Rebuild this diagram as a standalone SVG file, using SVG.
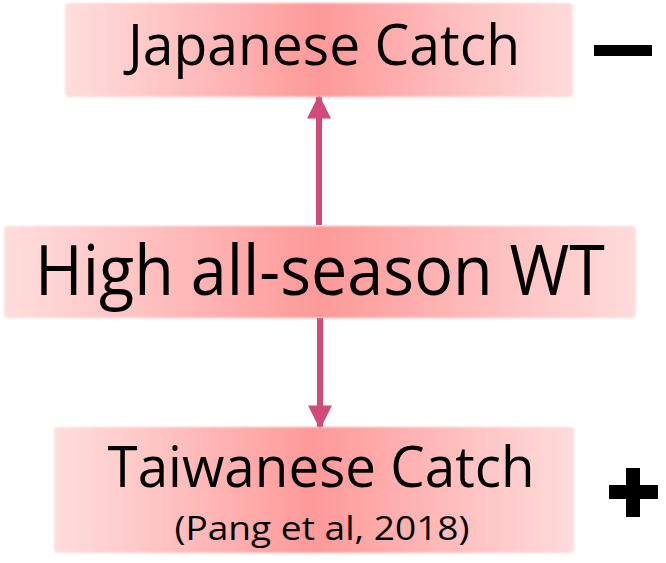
<svg xmlns="http://www.w3.org/2000/svg" width="666" height="563" viewBox="0 0 666 563">
  <style>
    .lbl { font-family: "Open Sans", "Liberation Sans", sans-serif; fill: #000; text-anchor: middle; }
    .conn { stroke: #d24b77; stroke-width: 6; fill: none; }
    .box { fill: url(#boxFill); filter: url(#soft); }
  </style>
  <defs>
    <linearGradient id="boxFill" x1="0" y1="0" x2="1" y2="0">
      <stop offset="0" stop-color="#ffdddd"/>
      <stop offset="0.2" stop-color="#ffc4c4"/>
      <stop offset="0.4" stop-color="#ffa7a7"/>
      <stop offset="0.5" stop-color="#fd9999"/>
      <stop offset="0.6" stop-color="#ffa6a6"/>
      <stop offset="0.8" stop-color="#ffc2c2"/>
      <stop offset="1" stop-color="#ffdbdb"/>
    </linearGradient>
    <filter id="soft" x="-5%" y="-10%" width="110%" height="120%">
      <feGaussianBlur stdDeviation="1"/>
    </filter>
    <marker id="head" viewBox="0 0 10 10" refX="9" refY="5" markerWidth="4" markerHeight="4" orient="auto" markerUnits="strokeWidth">
      <path d="M0,0 L10,5 L0,10 Z" fill="#d24b77"/>
    </marker>
  </defs>

  <g id="connectors">
    <line class="conn" x1="319" y1="225" x2="319" y2="97" marker-end="url(#head)"/>
    <line class="conn" x1="320" y1="318" x2="320" y2="427" marker-end="url(#head)"/>
  </g>

  <g id="japanese-catch">
    <rect class="box" x="65" y="3" width="508" height="94" rx="4"/>
    <text class="lbl" x="324" y="65" font-size="56" textLength="392" lengthAdjust="spacingAndGlyphs">Japanese Catch</text>
  </g>

  <g id="high-wt">
    <rect class="box" x="4" y="226" width="632" height="92" rx="4"/>
    <text class="lbl" x="320" y="295" font-size="69" textLength="570" lengthAdjust="spacingAndGlyphs">High all-season WT</text>
  </g>

  <g id="taiwanese-catch">
    <rect class="box" x="54" y="427" width="520" height="126" rx="4"/>
    <text class="lbl" x="321" y="487" font-size="56" textLength="427" lengthAdjust="spacingAndGlyphs">Taiwanese Catch</text>
    <text class="lbl" x="322" y="540" font-size="33" textLength="295" lengthAdjust="spacingAndGlyphs">(Pang et al, 2018)</text>
  </g>

  <g id="minus-sign">
    <rect x="594" y="45" width="58" height="11" fill="#000"/>
  </g>

  <g id="plus-sign">
    <rect x="609" y="485" width="49" height="14" fill="#000"/>
    <rect x="626" y="468" width="14" height="49" fill="#000"/>
  </g>
</svg>
